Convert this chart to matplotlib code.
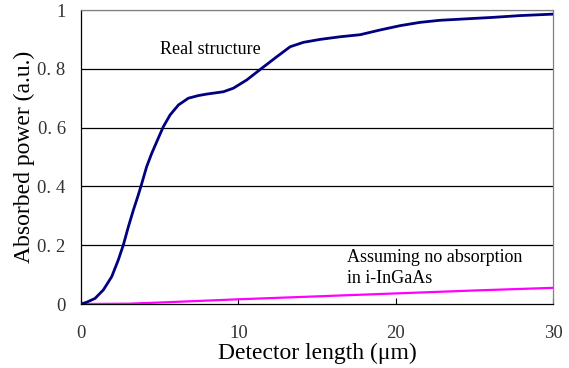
import numpy as np
import matplotlib.pyplot as plt

plt.rcParams['font.family'] = ['Liberation Serif', 'DejaVu Serif']

# real structure
t_real = [0, 0.36, 0.89, 1.42, 1.95, 2.37, 2.69, 3.01, 3.33, 3.64, 3.85, 4.17,
          4.49, 4.91, 5.23, 5.66, 6.19, 6.82, 7.46, 7.99, 9.05, 9.68, 10.53,
          11.49, 12.44, 13.29, 14.13, 15.19, 16.47, 17.74, 19.0, 20.3, 21.55,
          22.8, 24.5, 26.2, 27.9, 30]
p_real = [0, 0.006, 0.019, 0.048, 0.093, 0.150, 0.201, 0.263, 0.320, 0.371,
          0.408, 0.467, 0.512, 0.564, 0.603, 0.643, 0.677, 0.700, 0.709, 0.714,
          0.722, 0.734, 0.762, 0.802, 0.841, 0.875, 0.890, 0.900, 0.909, 0.916,
          0.932, 0.947, 0.958, 0.965, 0.970, 0.975, 0.981, 0.986]

# assuming no absorption in i-InGaAs
t_none = [0, 3, 5, 10, 15, 20, 25, 30]
p_none = [0, 0.001, 0.005, 0.016, 0.026, 0.036, 0.046, 0.055]

y_ticks = [0, 0.2, 0.4, 0.6, 0.8, 1]
y_labels = ['0', '0. 2', '0. 4', '0. 6', '0. 8', '1']
x_ticks = [0, 10, 20, 30]

fig = plt.figure(figsize=(5.69, 3.68), dpi=100)
ax = fig.add_axes([0.1424, 0.1739, 0.8296, 0.7989])

for y in y_ticks[1:]:
    ax.axhline(y, color='black' if y < 1 else '#808080', lw=0.9, zorder=1)

ax.plot(t_none, p_none, color='#FF00FF', lw=1.6, zorder=3)
ax.plot(t_real, p_real, color='#000080', lw=2.0, zorder=4,
        solid_joinstyle='round')

ax.text(5.0, 0.866, 'Real structure', fontsize=13, ha='left', va='center')
ax.text(16.9, 0.187, 'Assuming no absorption\nin i-InGaAs', fontsize=13,
        ha='left', va='top', linespacing=1.3)

ax.set_xlim(0, 30)
ax.set_ylim(0, 1)
ax.set_xticks(x_ticks)
ax.set_yticks(y_ticks)
ax.set_yticklabels(y_labels)
ax.tick_params(axis='x', direction='in', length=4, color='black',
               labelsize=13.5, labelcolor='#333333', pad=15)
ax.tick_params(axis='y', length=0, labelsize=13.5, labelcolor='#333333', pad=11)

ax.spines['left'].set_color('black')
ax.spines['bottom'].set_color('black')
ax.spines['right'].set_color('#808080')
ax.spines['top'].set_color('#808080')
for s in ax.spines.values():
    s.set_linewidth(0.9)

ax.set_xlabel('Detector length (μm)', fontsize=17, labelpad=1)
ax.set_ylabel('Absorbed power (a.u.)', fontsize=17, labelpad=2)

fig.savefig('out.png', dpi=100)
